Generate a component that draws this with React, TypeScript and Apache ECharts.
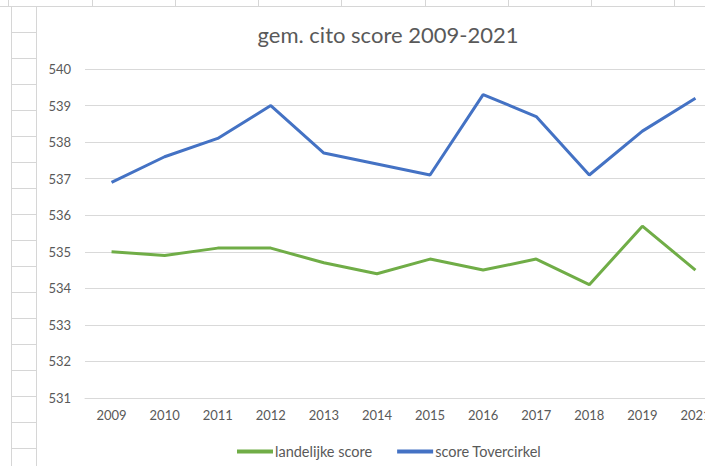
import React, { useEffect, useRef } from "react";
import * as echarts from "echarts";

const years = ["2009", "2010", "2011", "2012", "2013", "2014", "2015", "2016", "2017", "2018", "2019", "2021"];
const landelijkeScore = [535.0, 534.9, 535.1, 535.1, 534.7, 534.4, 534.8, 534.5, 534.8, 534.1, 535.7, 534.5];
const scoreTovercirkel = [536.9, 537.6, 538.1, 539.0, 537.7, 537.4, 537.1, 539.3, 538.7, 537.1, 538.3, 539.2];
const seriesNames = ["landelijke score", "score Tovercirkel"];
const titleText = "gem. cito score 2009-2021";

const sheetColumns = [8, 92, 175, 258, 341, 425, 508, 591, 674];
const sheetRows = [32, 58, 84, 110, 136, 162, 188, 214, 240, 266, 292, 318, 344, 370, 396, 422, 448];

const FONT = "Lato";
const TEXT = "#595959";
const SHEET = "#d6d6d6";

export default function App() {
  const ref = useRef<HTMLDivElement>(null);
  useEffect(() => {
    if (!ref.current) return;
    const chart = echarts.init(ref.current, null, { renderer: "svg" });
    const graphics: any[] = [];
    graphics.push({
      type: "line",
      shape: { x1: 0, y1: 6.5, x2: 760, y2: 6.5 },
      style: { stroke: SHEET, lineWidth: 1 },
      silent: true,
    });
    sheetColumns.forEach((x) =>
      graphics.push({
        type: "line",
        shape: { x1: x + 0.5, y1: 0, x2: x + 0.5, y2: 6 },
        style: { stroke: SHEET, lineWidth: 1 },
        silent: true,
      })
    );
    [11.5, 36.5].forEach((x) =>
      graphics.push({
        type: "line",
        shape: { x1: x, y1: 6, x2: x, y2: 466 },
        style: { stroke: SHEET, lineWidth: 1 },
        silent: true,
      })
    );
    sheetRows.forEach((y) =>
      graphics.push({
        type: "line",
        shape: { x1: 11, y1: y + 0.5, x2: 36, y2: y + 0.5 },
        style: { stroke: SHEET, lineWidth: 1 },
        silent: true,
      })
    );
    chart.setOption({
      animation: false,
      backgroundColor: "#ffffff",
      title: {
        text: titleText,
        left: 383,
        top: 18,
        textAlign: "center",
        textStyle: { fontFamily: FONT, fontSize: 22, fontWeight: "normal", color: TEXT },
      },
      legend: {
        data: seriesNames,
        left: 237,
        top: 444,
        padding: 0,
        itemGap: 25,
        itemWidth: 36,
        itemHeight: 4,
        icon: "rect",
        textStyle: { fontFamily: FONT, fontSize: 14.5, color: TEXT, padding: [0, 0, 0, -3] },
      },
      grid: { left: 85, top: 69, width: 637, height: 329, containLabel: false },
      xAxis: {
        type: "category",
        data: years,
        boundaryGap: true,
        axisLine: { show: true, lineStyle: { color: "#d9d9d9", width: 1 } },
        axisTick: { show: false },
        axisLabel: { fontFamily: FONT, fontSize: 13, color: TEXT, margin: 10 },
      },
      yAxis: {
        type: "value",
        min: 531,
        max: 540,
        interval: 1,
        axisLine: { show: false },
        axisTick: { show: false },
        splitLine: { lineStyle: { color: "#d9d9d9", width: 1 } },
        axisLabel: { fontFamily: FONT, fontSize: 13, color: TEXT, margin: 14 },
      },
      series: [
        {
          name: seriesNames[0],
          type: "line",
          data: landelijkeScore,
          showSymbol: false,
          symbol: "none",
          lineStyle: { color: "#70AD47", width: 3 },
          itemStyle: { color: "#70AD47" },
        },
        {
          name: seriesNames[1],
          type: "line",
          data: scoreTovercirkel,
          showSymbol: false,
          symbol: "none",
          lineStyle: { color: "#4472C4", width: 3 },
          itemStyle: { color: "#4472C4" },
        },
      ],
      graphic: graphics,
    });
    return () => chart.dispose();
  }, []);
  return (
    <div style={{ position: "absolute", left: 0, top: 0, width: 705, height: 466, overflow: "hidden", background: "#fff" }}>
      <div ref={ref} style={{ width: 760, height: 466 }} />
    </div>
  );
}
